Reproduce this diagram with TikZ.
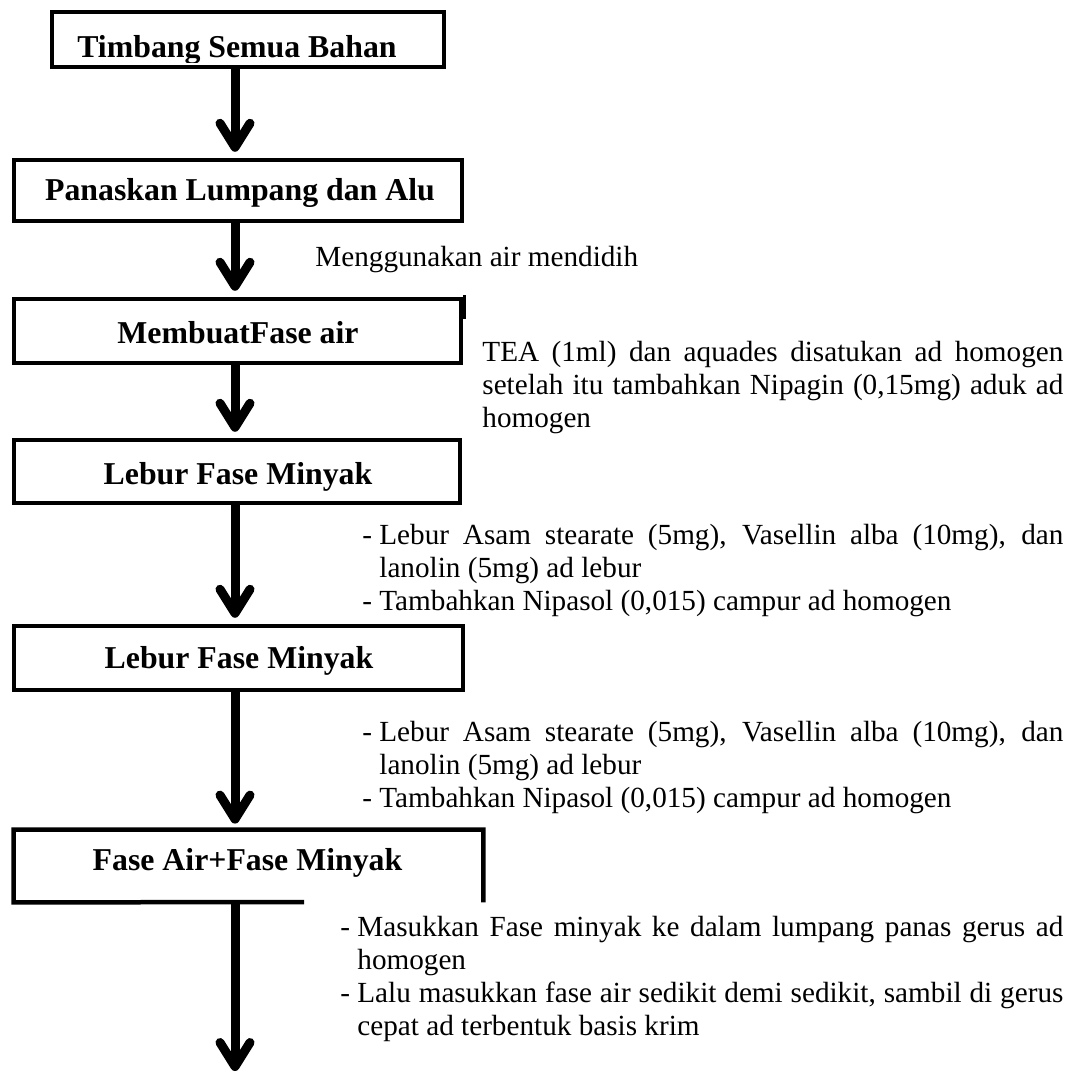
\documentclass[tikz,border=0pt]{standalone}
\usepackage{fontspec}
\setmainfont{Liberation Serif}
\usetikzlibrary{arrows.meta,calc}
\hyphenpenalty=10000
\exhyphenpenalty=10000
\tolerance=9999
\newcommand\bulitem[1]{\hangindent=8.5pt\hangafter=1\noindent\makebox[8.5pt][l]{-}#1\par}
\begin{document}
\begin{tikzpicture}[x=0.5pt,y=-0.5pt,
  boxst/.style={draw,line width=2.25pt,inner sep=0pt},
  ttl/.style={font=\fontsize{15.9}{18}\selectfont\bfseries,inner sep=0pt,anchor=base},
  note/.style={font=\fontsize{14.6}{16.5}\selectfont,inner sep=0pt,anchor=base west},
  body/.style={note,align=justify},
  arr/.style={line width=4.5pt,-{Straight Barb[length=12pt,width=15pt,round]}},
  tobox/.style={arr,shorten >=3pt}]
\useasboundingbox (0,0) rectangle (1085,1073);
\fill[white] (0,0) rectangle (1085,1073);
\coordinate (ax) at (235,0);
% boxes
\node[boxst,minimum width=196pt,minimum height=27.5pt] (b1) at (248,39.5) {};
\node[boxst,minimum width=224pt,minimum height=30.5pt] (b2) at (238,190.5) {};
\node[boxst,minimum width=223.5pt,minimum height=32pt] (b3) at (237.5,331) {};
\node[boxst,minimum width=223pt,minimum height=31.5pt] (b4) at (237,471.5) {};
\node[boxst,minimum width=224.5pt,minimum height=32pt] (b5) at (238.5,658) {};
\node[inner sep=0pt,minimum width=234.5pt,minimum height=36pt] (b6) at (248.5,866) {};
\coordinate (b6cut) at (304,902);
\draw[line width=2.25pt] (b6cut) -- (b6.south west) -- (b6.north west) -- (b6.north east) -- (b6.south east);
\draw[line width=1.6pt] ($(b3.north east)+(1.5,-2)$) -- ++(0,24);
% titles
\begin{scope}
\clip (0,0) rectangle (1085,62);
\node[ttl] (t1) at (237,57) {Timbang Semua Bahan};
\end{scope}
\node[ttl] (t2) at (240,200) {Panaskan Lumpang dan Alu};
\node[ttl] (t3) at (238,343) {MembuatFase air};
\node[ttl] (t4) at (238,484) {Lebur Fase Minyak};
\node[ttl] (t5) at (239,668) {Lebur Fase Minyak};
\node[ttl] (t6) at (247.5,870) {Fase Air+Fase Minyak};
% arrows
\draw[tobox] (b1.south -| ax) -- (b2.north -| ax);
\draw[tobox] (b2.south -| ax) -- (b3.north -| ax);
\draw[tobox] (b3.south -| ax) -- (b4.north -| ax);
\draw[tobox] (b4.south -| ax) -- (b5.north -| ax);
\draw[tobox] (b5.south -| ax) -- (b6.north -| ax);
\coordinate (end) at (235,1071);
\draw[arr] (b6.south -| ax) -- (end);
% notes
\node[note] (n1) at (315,266) {Menggunakan air mendidih};
\node[body,text width=290.5pt] (n2) at (482,361) {TEA (1ml) dan aquades disatukan ad homogen\linebreak setelah itu tambahkan Nipagin (0,15mg) aduk ad\linebreak homogen};
\node[body,text width=350.5pt] (n3) at (362,544) {\bulitem{Lebur Asam stearate (5mg), Vasellin alba (10mg), dan\linebreak lanolin (5mg) ad lebur}\bulitem{Tambahkan Nipasol (0,015) campur ad homogen}};
\node[body,text width=350.5pt] (n4) at (362,741) {\bulitem{Lebur Asam stearate (5mg), Vasellin alba (10mg), dan\linebreak lanolin (5mg) ad lebur}\bulitem{Tambahkan Nipasol (0,015) campur ad homogen}};
\node[body,text width=361.5pt] (n5) at (340,936) {\bulitem{Masukkan Fase minyak ke dalam lumpang panas gerus ad\linebreak homogen}\bulitem{Lalu masukkan fase air sedikit demi sedikit, sambil di gerus\linebreak cepat ad terbentuk basis krim}};
\end{tikzpicture}
\end{document}
